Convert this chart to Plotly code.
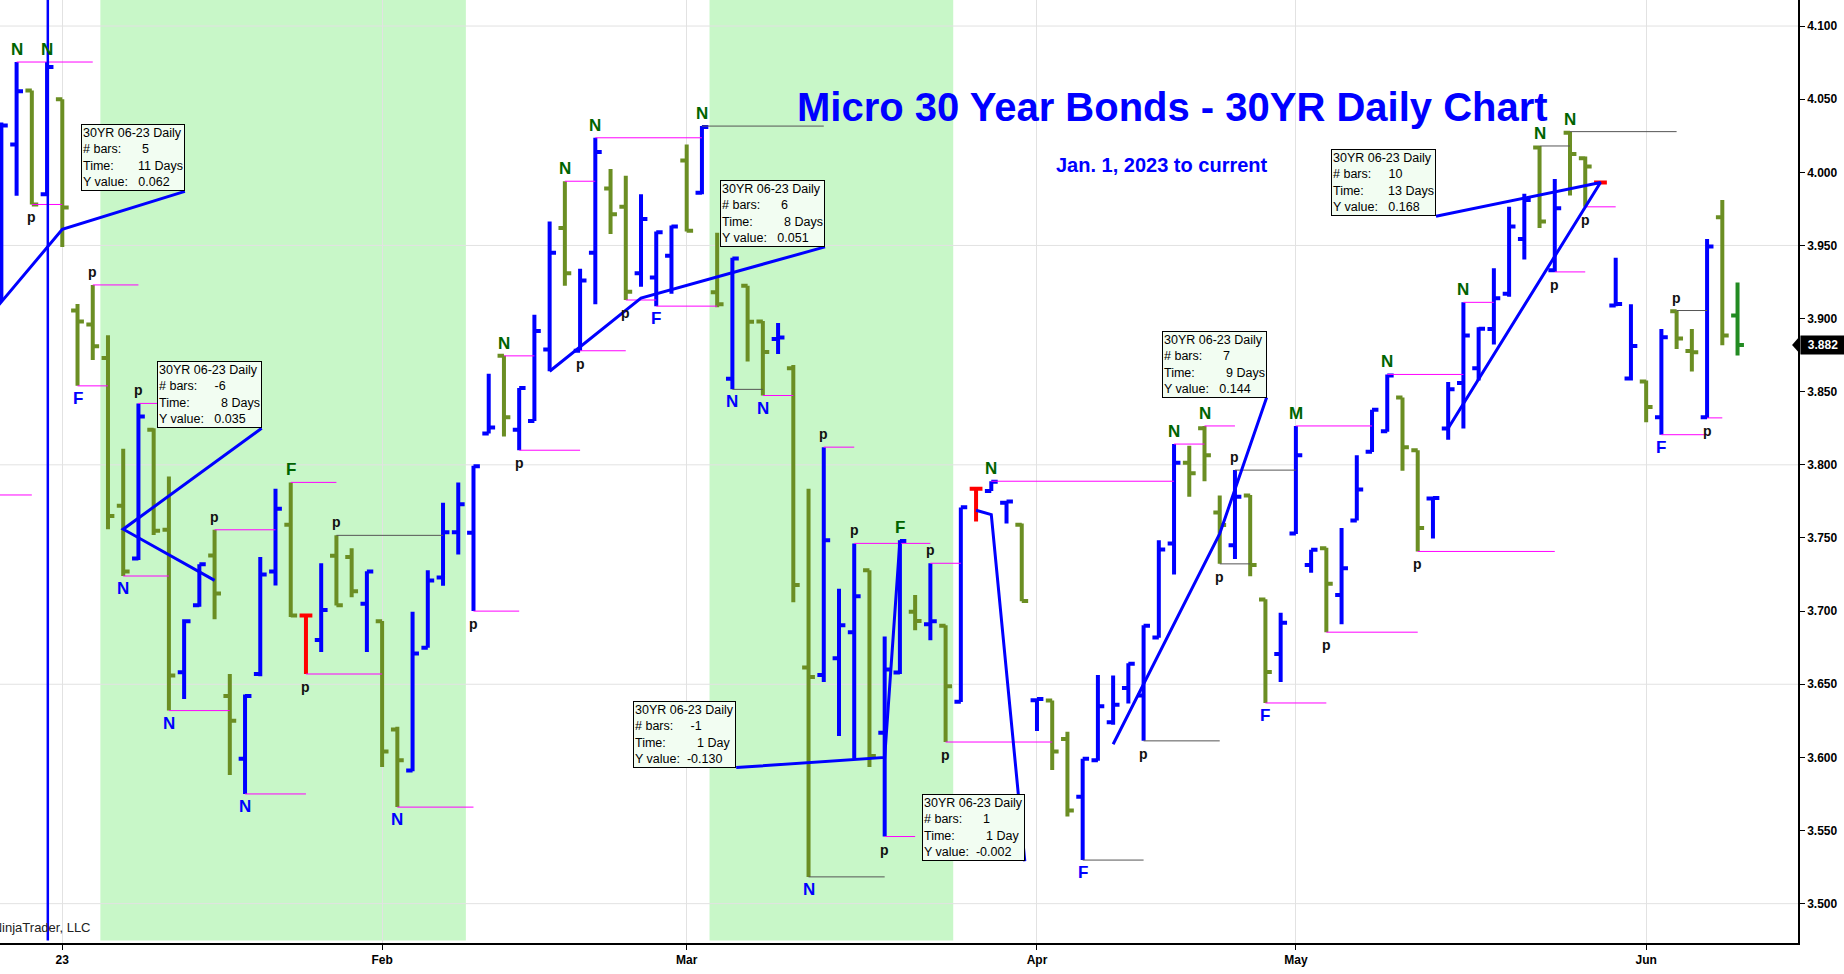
import plotly.graph_objects as go

FONT = "Liberation Sans, Arial, sans-serif"
NARROW = "Liberation Sans Narrow, Arial Narrow, Liberation Sans, sans-serif"

# x = trading-day offset from the first bar of 2023 (the "23" tick)
bar_x = list(range(-4, 111))
bar_open = [
    3.930, 4.019, 4.056, 3.985, 4.050, 3.9055, 3.896, 3.873, 3.772, 3.736,
    3.824, 3.7556, 3.6582, 3.704, 3.738, 3.642, 3.599, 3.657, 3.727, 3.759,
    3.697, 3.6803, 3.7378, 3.737, 3.705, 3.693, 3.619, 3.591, 3.675, 3.723,
    3.754, 3.7535, 3.8214, 3.8745, 3.824, 3.830, 3.8788, 3.962, 3.878, 3.945,
    3.989, 3.9764, 3.931, 3.928, 3.943, 4.008, 3.986, 3.918, 3.8588, 3.9225,
    3.898, 3.886, 3.866, 3.6614, 3.6563, 3.6678, 3.6856, 3.728, 3.6168, 3.658,
    3.6996, 3.691, 3.690, 3.638, 3.7837, 3.7822, 3.774, 3.759, 3.639, 3.6389,
    3.6126, 3.5731, 3.598, 3.624, 3.6474, 3.6423, 3.682, 3.7463, 3.8015, 3.825,
    3.7675, 3.745, 3.779, 3.708, 3.6707, 3.753, 3.7315, 3.743, 3.7111, 3.762,
    3.809, 3.823, 3.846, 3.810, 3.777, 3.8249, 3.8559, 3.866, 3.8928, 3.917,
    3.9544, 4.017, 3.933, 4.027, 4.0096, 3.993, 3.909, 3.859, 3.857, 3.8325,
    3.905, 3.8779, 3.8325, 3.9692, 3.9021,
]
bar_high = [
    4.034, 4.0754, 4.056, 4.0754, 4.050, 3.910, 3.923, 3.8886, 3.811, 3.842,
    3.825, 3.792, 3.6945, 3.732, 3.7556, 3.657, 3.643, 3.737, 3.7837, 3.788,
    3.6975, 3.7327, 3.7518, 3.743, 3.7272, 3.6932, 3.621, 3.6996, 3.728, 3.774,
    3.788, 3.7994, 3.8622, 3.8745, 3.8525, 3.9026, 3.9663, 3.9939, 3.934, 4.0236,
    4.0023, 3.9977, 3.985, 3.9595, 3.9637, 4.019, 4.0316, 3.9586, 3.9416, 3.9225,
    3.8983, 3.897, 3.8682, 3.7837, 3.8121, 3.7153, 3.7463, 3.728, 3.6826, 3.7484,
    3.711, 3.7327, 3.6903, 3.7709, 3.7837, 3.7888, 3.7748, 3.7599, 3.6401, 3.6389,
    3.6176, 3.599, 3.6563, 3.656, 3.6644, 3.6903, 3.7484, 3.8142, 3.813, 3.8266,
    3.779, 3.7964, 3.7794, 3.7081, 3.6988, 3.8266, 3.742, 3.7433, 3.7569, 3.8066,
    3.8376, 3.8618, 3.8461, 3.810, 3.7773, 3.8567, 3.9111, 3.8941, 3.9344, 3.9764,
    3.9854, 4.018, 3.9955, 4.0278, 4.0108, 3.994, 3.9416, 3.9098, 3.8576, 3.8928,
    3.9055, 3.8928, 3.9544, 3.9811, 3.9246,
]
bar_low = [
    3.912, 3.984, 3.978, 3.984, 3.949, 3.854, 3.8716, 3.756, 3.724, 3.735,
    3.752, 3.632, 3.640, 3.703, 3.6945, 3.588, 3.575, 3.6555, 3.7175, 3.696,
    3.657, 3.672, 3.7038, 3.7094, 3.672, 3.5935, 3.566, 3.5905, 3.675, 3.7174,
    3.7387, 3.700, 3.8214, 3.8193, 3.810, 3.830, 3.864, 3.9225, 3.878, 3.9098,
    3.9578, 3.9127, 3.9217, 3.9085, 3.917, 3.9595, 3.985, 3.9077, 3.8516, 3.8707,
    3.8474, 3.8758, 3.706, 3.5183, 3.6516, 3.6147, 3.599, 3.5935, 3.5459, 3.657,
    3.6869, 3.680, 3.6105, 3.6379, 3.7612, 3.7822, 3.7599, 3.7068, 3.618, 3.5913,
    3.5595, 3.5298, 3.5977, 3.6223, 3.6368, 3.6113, 3.6818, 3.7251, 3.7782, 3.7888,
    3.7323, 3.7357, 3.7238, 3.6372, 3.6516, 3.7527, 3.7263, 3.6856, 3.6911, 3.762,
    3.8087, 3.8227, 3.796, 3.7408, 3.7497, 3.8172, 3.8249, 3.8576, 3.8822, 3.9149,
    3.9404, 3.962, 3.9319, 3.9841, 3.9764, 3.993, 3.9085, 3.8576, 3.8291, 3.8206,
    3.8792, 3.8639, 3.8321, 3.8818, 3.8748,
]
bar_close = [
    4.032, 4.0554, 3.978, 4.072, 3.976, 3.898, 3.881, 3.765, 3.727, 3.833,
    3.755, 3.656, 3.693, 3.732, 3.712, 3.625, 3.642, 3.725, 3.770, 3.697,
    3.697, 3.7007, 3.704, 3.7135, 3.727, 3.604, 3.598, 3.671, 3.721, 3.754,
    3.773, 3.799, 3.8255, 3.8325, 3.8525, 3.8915, 3.945, 3.931, 3.926, 4.0138,
    3.9713, 3.9183, 3.968, 3.959, 3.963, 3.960, 4.031, 3.9098, 3.941, 3.8979,
    3.8771, 3.887, 3.7179, 3.655, 3.7484, 3.6903, 3.7102, 3.601, 3.660, 3.748,
    3.6932, 3.693, 3.6486, 3.771, 3.7837, 3.7885, 3.775, 3.707, 3.640, 3.604,
    3.5637, 3.599, 3.635, 3.636, 3.664, 3.690, 3.7421, 3.8015, 3.7943, 3.8066,
    3.7589, 3.7782, 3.7315, 3.6584, 3.692, 3.8066, 3.742, 3.7187, 3.7293, 3.7832,
    3.8376, 3.861, 3.8121, 3.7569, 3.7773, 3.8516, 3.8885, 3.893, 3.9139, 3.9629,
    3.9811, 3.9663, 3.9754, 4.0125, 4.004, 3.993, 3.910, 3.8812, 3.8396, 3.8873,
    3.8864, 3.877, 3.9493, 3.8885, 3.882,
]
# b = blue, o = olive, r = red, g = green (indicator colouring)
bar_color = list(
    "bbobooooob" "oobboobbbo" "rbooboobbb" "bbbobbbobb" "oobbbobobo"
    "oboobbbobb" "obobrbbobo" "obbbbbbboo" "oboobbbobb" "bboobbbbbb"
    "boboorbbob" "oobog"
)

month_pos = [0, 21, 41, 64, 81, 104]
month_text = ["23", "Feb", "Mar", "Apr", "May", "Jun"]

band_start = [2.5, 42.5]
band_end = [26.5, 58.5]

grid_y = [3.50, 3.65, 3.80, 3.95, 4.10]
start_line_x = -0.95

# pivot levels
piv_start = [-3, -2, 2, 1, -6, 5, 4, 10, 7, 12, 15, 16, 18, 22, 27, 29, 30, 33,
             34, 35, 37, 39, 42, 44, 46, 50, 52, 49, 54, 57, 58, 61, 67, 71, 73,
             75, 77, 76, 79, 81, 83, 87, 89, 92, 97, 99, 98, 100, 105, 106, 108]
piv_end = [2, 0, 5, 3, -2, 10, 7, 14, 11, 16, 18, 21, 25, 27, 30, 31, 34, 35,
           37, 42, 39, 43, 50, 46, 48, 52, 57, 54, 56, 59, 65, 73, 71, 76, 75,
           77, 81, 78, 83, 86, 89, 92, 98, 94, 99, 106, 100, 102, 108, 108, 109]
piv_price = [4.0754, 3.978, 3.923, 3.854, 3.7794, 3.842, 3.724, 3.7556, 3.632,
             3.575, 3.788, 3.657, 3.7518, 3.566, 3.700, 3.8745, 3.810, 3.9939,
             3.878, 4.0236, 3.9127, 3.9085, 4.0316, 3.8516, 3.8474, 3.8121,
             3.7463, 3.5183, 3.5459, 3.7327, 3.6105, 3.7888, 3.5298, 3.6113,
             3.8142, 3.8266, 3.7964, 3.7323, 3.6372, 3.8266, 3.6856, 3.8618,
             3.7408, 3.9111, 4.018, 4.0278, 3.9319, 3.9764, 3.8206, 3.9055, 3.8321]
piv_kind = list("mmmmmmmmmmmmdmmmmmmmmmddmmmdmmmmddmmddmmmmmmddmmmdm")

# swing labels
lab_x = [-3, -1, -2, 2, 1, 5, 4, 10, 15, 7, 12, 16,
         18, 22, 27, 29, 30, 33, 35, 34,
         42, 37, 39, 44, 46, 50, 52, 55, 49, 54,
         57, 58, 61, 67, 71, 73, 75,
         77, 76, 79, 81, 83, 87, 89, 92,
         97, 99, 98, 100, 105, 106, 108]
lab_text = ["N", "N", "p", "p", "F", "p", "N", "p", "F", "N", "N", "p",
            "p", "N", "p", "N", "p", "N", "N", "p",
            "N", "p", "F", "N", "N", "p", "p", "F", "N", "p",
            "p", "p", "N", "F", "p", "N", "N",
            "p", "p", "F", "M", "p", "N", "p", "N",
            "N", "N", "p", "p", "F", "p", "p"]
lab_side = ["a", "a", "b", "a", "b", "a", "b", "a", "a", "b", "b", "b",
            "a", "b", "b", "a", "b", "a", "a", "b",
            "a", "b", "b", "b", "b", "a", "a", "a", "b", "b",
            "a", "b", "a", "b", "b", "a", "a",
            "a", "b", "b", "a", "b", "a", "b", "a",
            "a", "a", "b", "b", "b", "a", "b"]

# ruler drawings: start, end, text anchor
ruler_x = [[-5, 0, 8.05], [10, 4, 13.09], [32, 38, 50.08], [55, 54, 44.25],
           [60, 61, 63.2], [69, 76, 79.08], [91, 101, 90.2]]
ruler_y = [[3.899, 3.961, 3.987], [3.721, 3.756, 3.825], [3.864, 3.914, 3.949],
           [3.748, 3.600, 3.593], [3.769, 3.766, 3.529], [3.609, 3.753, 3.846],
           [3.825, 3.993, 3.970]]
ruler_bars = ["5", "-6", "6", "-1", "1", "7", "10"]
ruler_time = ["11 Days", "8 Days", "8 Days", "1 Day", "1 Day", "9 Days", "13 Days"]
ruler_val = ["0.062", "0.035", "0.051", "-0.130", "-0.002", "0.144", "0.168"]

colors = {"b": "#0000ff", "o": "#6b8e23", "r": "#ff0000", "g": "#228b22"}
piv_colors = {"m": "#ff00ff", "d": "#555555"}

fig = go.Figure()

# pivot lines
for kind, col in piv_colors.items():
    xs, ys = [], []
    for s, e, p, k in zip(piv_start, piv_end, piv_price, piv_kind):
        if k == kind:
            xs += [s, e, None]
            ys += [p, p, None]
    fig.add_trace(go.Scatter(x=xs, y=ys, mode="lines",
                             line=dict(color=col, width=1), hoverinfo="skip"))

# price bars, one trace per colour
for code, col in colors.items():
    sel = [i for i, c in enumerate(bar_color) if c == code]
    fig.add_trace(go.Ohlc(
        x=[bar_x[i] for i in sel],
        open=[bar_open[i] for i in sel],
        high=[bar_high[i] for i in sel],
        low=[bar_low[i] for i in sel],
        close=[bar_close[i] for i in sel],
        line=dict(width=4),
        increasing=dict(line=dict(color=col, width=4)),
        decreasing=dict(line=dict(color=col, width=4)),
        tickwidth=0.42,
        hoverinfo="skip",
    ))

# ruler lines
rx, ry = [], []
for xs, ys in zip(ruler_x, ruler_y):
    rx += xs + [None]
    ry += ys + [None]
fig.add_trace(go.Scatter(x=rx, y=ry, mode="lines",
                         line=dict(color="#0000ff", width=3), hoverinfo="skip"))

annotations = []
for x, t, s in zip(lab_x, lab_text, lab_side):
    i = bar_x.index(x)
    if t == "p":
        col, size = "#111111", 14
    else:
        col, size = ("#006400" if s == "a" else "#0000ff"), 17
    if s == "a":
        y, anchor = bar_high[i], "bottom"
        shift = 3 if t == "p" else 1
    else:
        y, anchor = bar_low[i], "top"
        shift = -3 if t == "p" else -1
    annotations.append(dict(x=x, y=y, text=t, showarrow=False, yanchor=anchor,
                            yshift=shift, font=dict(family=NARROW, size=size,
                                                    color=col, weight="bold")))

nb = "\u00a0"
for xs, ys, b, tm, v in zip(ruler_x, ruler_y, ruler_bars, ruler_time, ruler_val):
    gap_b = 5 if b.startswith("-") or len(b) > 1 else 6
    gap_t = 7 if len(tm.split()[0]) > 1 else 9
    gap_y = 2 if v.startswith("-") else 3
    txt = ("30YR 06-23 Daily<br>"
           f"# bars:{nb * gap_b}{b}<br>"
           f"Time:{nb * gap_t}{tm}<br>"
           f"Y value:{nb * gap_y}{v}")
    annotations.append(dict(x=xs[-1], y=ys[-1], text=txt, showarrow=False,
                            xanchor="right", yanchor="bottom", align="left",
                            bgcolor="#f2fdf2", bordercolor="#000000",
                            borderwidth=1, borderpad=1,
                            font=dict(family=FONT, size=12.5, color="#000000")))

annotations.append(dict(x=0.652, y=0.8865, xref="paper", yref="paper",
                        text="Micro 30 Year Bonds - 30YR Daily Chart",
                        showarrow=False, yanchor="middle",
                        font=dict(family=FONT, size=40, color="#0000ff",
                                  weight="bold")))
annotations.append(dict(x=0.6463, y=0.8254, xref="paper", yref="paper",
                        text="Jan. 1, 2023 to current", showarrow=False,
                        yanchor="middle",
                        font=dict(family=FONT, size=20, color="#0000ff",
                                  weight="bold")))
annotations.append(dict(x=0.0517, y=0.016, xref="paper", yref="paper",
                        text="\u00a9 2023 NinjaTrader, LLC", showarrow=False,
                        xanchor="right", yanchor="middle",
                        font=dict(family=FONT, size=13, color="#222222")))

last_close = bar_close[-1]
annotations.append(dict(x=1, y=last_close, xref="paper", yref="y",
                        text=f"{last_close:.3f}", showarrow=False,
                        xanchor="left", xshift=2, width=40, borderpad=2,
                        bgcolor="#000000",
                        font=dict(family=FONT, size=12, color="#ffffff",
                                  weight="bold")))

shapes = []
for s, e in zip(band_start, band_end):
    shapes.append(dict(type="rect", xref="x", yref="paper", x0=s, x1=e,
                       y0=0.0027, y1=1, fillcolor="#c8f7c8",
                       line=dict(width=0), layer="below"))
for g in grid_y:
    shapes.append(dict(type="line", xref="paper", yref="y", x0=0, x1=1,
                       y0=g, y1=g, line=dict(color="#e2e2e2", width=1),
                       layer="below"))
shapes.append(dict(type="line", xref="x", yref="paper", x0=start_line_x,
                   x1=start_line_x, y0=0.0027, y1=1,
                   line=dict(color="#0000ff", width=2.5), layer="above"))
half = 0.0062
shapes.append(dict(type="path", xref="paper", yref="y",
                   path=(f"M 0.9967,{last_close} L 1.0012,{last_close + half} "
                         f"L 1.0012,{last_close - half} Z"),
                   fillcolor="#000000", line=dict(width=0)))

fig.update_layout(
    width=1844, height=974,
    margin=dict(l=0, r=46, t=0, b=31),
    showlegend=False,
    paper_bgcolor="#ffffff", plot_bgcolor="#ffffff",
    annotations=annotations, shapes=shapes,
    xaxis=dict(range=[-4.09, 113.97], tickvals=month_pos, ticktext=month_text,
               showgrid=True, gridcolor="#e2e2e2", zeroline=False,
               showline=True, linecolor="#000000", linewidth=1.5,
               ticks="outside", ticklen=5, tickcolor="#000000",
               rangeslider=dict(visible=False), fixedrange=True,
               tickfont=dict(family=FONT, size=12, color="#000000",
                             weight="bold")),
    yaxis=dict(range=[3.4731, 4.1178], side="right", dtick=0.05, tick0=3.5,
               tickformat=".3f", showgrid=False, zeroline=False,
               showline=True, linecolor="#000000", linewidth=1.5,
               ticks="outside", ticklen=5, tickcolor="#000000",
               fixedrange=True,
               tickfont=dict(family=FONT, size=12, color="#000000",
                             weight="bold")),
)

# page body has a default 8px margin; remove it so the chart fills the window
fig.write_html("out.html", config={"displayModeBar": False},
               post_script="document.body.style.margin='0px';"
                           "document.body.style.overflow='hidden';")
